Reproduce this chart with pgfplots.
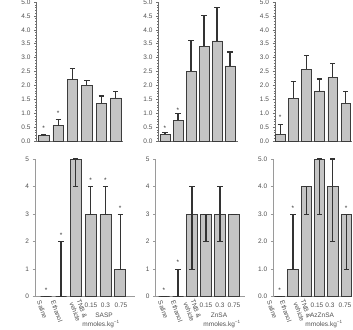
\documentclass[border=0pt]{standalone}
\usepackage{pgfplots}
\pgfplotsset{compat=1.18}
\usepackage{fontspec}
\setmainfont{Liberation Sans}

\definecolor{barfill}{HTML}{C4C4C4}
\definecolor{bardraw}{HTML}{3C3C3C}
\definecolor{errcol}{HTML}{333333}
\definecolor{topaxis}{HTML}{6E6E6E}
\definecolor{botaxis}{HTML}{9A9A9A}
\definecolor{labgray}{HTML}{505050}

\newcommand{\tickfont}{\fontsize{6.5}{7.5}\selectfont}
\newcommand{\starfont}{\fontsize{6.5}{6.5}\selectfont}

\pgfplotsset{
  base/.style={
    scale only axis, anchor=south west,
    axis x line*=bottom, axis y line*=left,
    ymin=0, ymax=5, xtick=\empty, clip=false,
    tick align=outside,
    major tick length=2.5pt, minor tick length=1.4pt,
    ticklabel style={font=\tickfont, text=labgray},
    /pgf/number format/assume math mode=true,
  },
  toprow/.style={
    base, height=139pt,
    ytick={0,0.5,1,1.5,2,2.5,3,3.5,4,4.5,5},
    minor y tick num=4,
    axis line style={draw=topaxis, line width=0.7pt},
    every tick/.style={draw=topaxis, line width=0.5pt},
    yticklabel style={/pgf/number format/fixed,
      /pgf/number format/fixed zerofill,
      /pgf/number format/precision=1},
  },
  botrow/.style={
    base, height=137.7pt,
    ytick={0,1,2,3,4,5},
    axis line style={draw=botaxis, line width=0.7pt},
    every tick/.style={draw=botaxis, line width=0.5pt},
  },
  bars/.style={ybar, bar shift=0pt, fill=barfill, draw=bardraw, line width=0.7pt},
  errstyle/.style={
    /pgfplots/error bars/error bar style={draw=errcol, line width=1.1pt},
    /pgfplots/error bars/error mark options={rotate=90, mark size=2.6pt, draw=errcol, line width=1.1pt},
  },
  stars/.style={only marks, mark=text,
    text mark={\textcolor{errcol}{\starfont *}}},
}

\tikzset{
  rotlab/.style={font=\tickfont, text=labgray, rotate=-70, anchor=west, inner sep=0pt, align=left},
  lab/.style={font=\tickfont, text=labgray, inner sep=0pt},
}

\begin{document}
\begin{tikzpicture}[x=1pt,y=1pt]
\path[use as bounding box] (0,0) rectangle (353,329);

% ---------- top row: scores (0-5 scale, SEM upward) ----------
\begin{axis}[toprow, at={(36.5pt,188pt)}, width=86.4pt, xmin=-0.5, xmax=5.5]
\addplot[bars, bar width=10.5pt, errstyle, error bars/.cd, y dir=plus, y explicit]
  coordinates {(0,0.20) +- (0,0.03) (1,0.55) +- (0,0.23) (2,2.20) +- (0,0.40)
               (3,2.00) +- (0,0.16) (4,1.35) +- (0,0.27) (5,1.55) +- (0,0.24)};
\addplot[stars] coordinates {(0,0.45) (1,1.00)};
\end{axis}

\begin{axis}[toprow, at={(158.5pt,188pt)}, width=79.3pt, xmin=-0.5, xmax=5.6]
\addplot[bars, bar width=10pt, errstyle, error bars/.cd, y dir=plus, y explicit]
  coordinates {(0,0.25) +- (0,0.05) (1,0.75) +- (0,0.25) (2,2.50) +- (0,1.10)
               (3,3.40) +- (0,1.10) (4,3.60) +- (0,1.20) (5,2.70) +- (0,0.50)};
\addplot[stars] coordinates {(0,0.47) (1,1.10)};
\end{axis}

\begin{axis}[toprow, at={(275pt,188pt)}, width=77.3pt, xmin=-0.4, xmax=5.5]
\addplot[bars, bar width=9.5pt, errstyle, error bars/.cd, y dir=plus, y explicit]
  coordinates {(0,0.25) +- (0,0.33) (1,1.53) +- (0,0.60) (2,2.58) +- (0,0.48)
               (3,1.80) +- (0,0.43) (4,2.29) +- (0,0.49) (5,1.35) +- (0,0.44)};
\addplot[stars] coordinates {(0,0.86)};
\end{axis}

% ---------- bottom row: medians with ranges ----------
\begin{axis}[botrow, at={(35pt,32.3pt)}, width=100pt, xmin=-0.76, xmax=6.0]
\addplot[bars, bar width=11pt, errstyle, error bars/.cd, y dir=both, y explicit]
  coordinates {(0,0) += (0,0) -= (0,0)
               (1,0) += (0,2) -= (0,0)
               (2,5) += (0,0) -= (0,1)
               (3,3) += (0,1) -= (0,0)
               (4,3) += (0,1) -= (0,0)
               (5,1) += (0,2) -= (0,0)};
\addplot[stars] coordinates {(0,0.22) (1,2.22) (3,4.22) (4,4.22) (5,3.22)};
\end{axis}

\begin{axis}[botrow, at={(155.6pt,32.3pt)}, width=89.6pt, xmin=-0.6, xmax=5.8]
\addplot[bars, bar width=11pt, errstyle, error bars/.cd, y dir=both, y explicit]
  coordinates {(0,0) += (0,0) -= (0,0)
               (1,0) += (0,1) -= (0,0)
               (2,3) += (0,1) -= (0,2)
               (3,3) += (0,0) -= (0,1)
               (4,3) += (0,1) -= (0,1)
               (5,3) += (0,0) -= (0,0)};
\addplot[stars] coordinates {(0,0.22) (1,1.25)};
\end{axis}

\begin{axis}[botrow, at={(273.3pt,32.3pt)}, width=78.6pt, xmin=-0.48, xmax=5.43,
  yticklabel style={/pgf/number format/fixed,
    /pgf/number format/fixed zerofill,
    /pgf/number format/precision=1}]
\addplot[bars, bar width=10.5pt, errstyle, error bars/.cd, y dir=both, y explicit]
  coordinates {(0,0) += (0,0) -= (0,0)
               (1,1) += (0,2) -= (0,0)
               (2,4) += (0,0) -= (0,1)
               (3,5) += (0,0) -= (0,2)
               (4,4) += (0,1) -= (0,2)
               (5,3) += (0,0) -= (0,2)};
\addplot[stars] coordinates {(0,0.24) (1,3.22) (5,3.22)};
\end{axis}

% ---------- group labels ----------
\node[rotlab] at (39,28) {Saline};
\node[rotlab] at (53,28) {Ethanol};
\node[rotlab] at (75,28) {TNB \&\\vehicle};
\node[lab] at (91,24) {0.15};
\node[lab] at (105.5,24) {0.3};
\node[lab] at (121,24) {0.75};
\node[lab] at (104,14) {SASP};
\node[lab] at (101,5) {mmoles.kg\textsuperscript{−1}};

\node[rotlab] at (160,28) {Saline};
\node[rotlab] at (173,28) {Ethanol};
\node[rotlab] at (189,28) {TNB \&\\vehicle};
\node[lab] at (206,24) {0.15};
\node[lab] at (220,24) {0.3};
\node[lab] at (234,24) {0.75};
\node[lab] at (219,14) {ZnSA};
\node[lab] at (222,5) {mmoles.kg\textsuperscript{−1}};

\node[rotlab] at (269,28) {Saline};
\node[rotlab] at (282,28) {Ethanol};
\node[rotlab] at (299,28) {TNB \&\\vehicle};
\node[lab] at (317,24) {0.15};
\node[lab] at (330,24) {0.3};
\node[lab] at (345,24) {0.75};
\node[lab] at (322,14) {AzZnSA};
\node[lab] at (324,5) {mmoles.kg\textsuperscript{−1}};
\end{tikzpicture}
\end{document}
